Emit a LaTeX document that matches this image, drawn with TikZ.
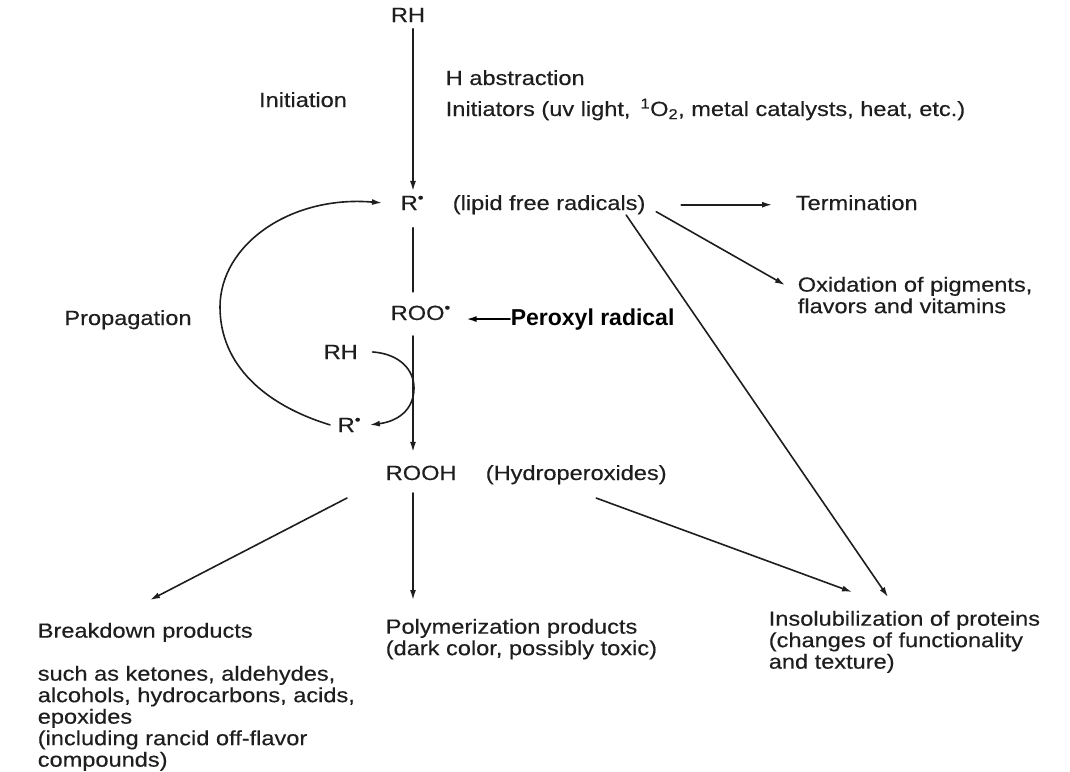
\documentclass[tikz,border=0pt]{standalone}
\usepackage{fontspec}
\setmainfont[FakeStretch=1.15, FakeBold=0.35]{Liberation Sans}
\newfontfamily\labelfont{Liberation Sans}
\usetikzlibrary{arrows.meta}

\definecolor{inkgray}{HTML}{1E1E1E}

\begin{document}
\begin{tikzpicture}[x=1pt, y=-1pt, line width=1.6pt, line cap=round, line join=round,
    txt/.style={inner sep=0pt, text=inkgray, font=\fontsize{20.5}{21.5}\selectfont},
    para/.style={txt, align=left, anchor=north west},
    ln/.style={draw=inkgray},
    arr/.style={draw=inkgray, -{Latex[length=10pt,width=6pt]}}]

  %% ════ main column ════
  \coordinate (spine) at (413,0);
  \node[txt, anchor=base] (rh) at (408,22) {RH};
  \node[txt, anchor=base] (init) at (303,107) {Initiation};
  \node[txt, anchor=base west] (habs) at (445,85) {H abstraction};
  \node[txt, anchor=base west] (initors) at (445,116) {Initiators (uv light, \,\textsuperscript{1}O\textsubscript{2}, metal catalysts, heat, etc.)};
  \node[txt, anchor=base west] (r) at (400,210) {R\textsuperscript{•}};
  \node[txt, anchor=base west] (lipid) at (452,210) {(lipid free radicals)};
  \node[txt, anchor=base west] (term) at (795,210) {Termination};
  \node[para] (oxid) at (797,276) {Oxidation of pigments,\\flavors and vitamins};
  \node[txt, anchor=base] (prop) at (128,325) {Propagation};
  \node[txt, anchor=base west] (roo) at (390,320) {ROO\textsuperscript{•}};
  \node[inner sep=0pt, anchor=base west, font=\labelfont\bfseries\fontsize{23}{26}\selectfont] (perox) at (510,325) {Peroxyl radical};
  \node[txt, anchor=base west] (rh2) at (323,359) {RH};
  \node[txt, anchor=base west] (r2) at (337,432) {R\textsuperscript{•}};
  \node[txt, anchor=base west] (rooh) at (385,480) {ROOH};
  \node[txt, anchor=base west] (hydro) at (485,480) {(Hydroperoxides)};

  %% ════ products ════
  \node[para] (brk) at (37,622) {Breakdown products\\[21.5pt]such as ketones, aldehydes,\\alcohols, hydrocarbons, acids,\\epoxides\\(including rancid off-flavor\\compounds)};
  \node[para] (poly) at (385,618) {Polymerization products\\(dark color, possibly toxic)};
  \node[para] (insol) at (768,610) {Insolubilization of proteins\\(changes of functionality\\and texture)};

  %% ════ connectors ════
  \draw[arr, shorten <=6pt, shorten >=4pt] (rh.south -| spine) -- (r.north -| spine);
  \draw[ln, shorten <=17pt, shorten >=13pt] (r.south -| spine) -- (roo.north -| spine);
  \draw[arr, shorten <=15pt, shorten >=13pt] (roo.south -| spine) -- (rooh.north -| spine);
  \draw[arr, shorten <=12pt, shorten >=18pt] (rooh.south -| spine) -- (poly.north -| spine);
  \draw[arr, shorten <=35pt, shorten >=23pt] (lipid.east) -- (lipid.east -| term.west);
  \draw[arr] ([shift={(10,7)}]lipid.east) -- ([shift={(-12,9)}]oxid.north west);
  \draw[arr] ([shift={(-20,0)}]lipid.south east) -- ([shift={(120,-13)}]insol.north west);
  \draw[arr] ([shift={(20,13)}]hydro.south) -- ([shift={(84,-18)}]insol.north west);
  \draw[arr] ([shift={(-38,17)}]rooh.south west) -- ([shift={(113,-22)}]brk.north west);
  \draw[arr, draw=black, shorten >=15pt] (perox.west) -- (perox.west -| roo.east);

  %% ════ propagation loop ════
  \draw[arr] ([xshift=-7pt]r2.west) .. controls (265,405) and (220,365) .. (220,307)
     .. controls (220,245) and (290,195) .. ([xshift=-18pt]r.west);
  \draw[arr] ([xshift=14pt]rh2.east) .. controls (400,354) and (414,370) .. (414,388)
     .. controls (414,408) and (400,421) .. ([xshift=8pt]r2.east);

  \pgfresetboundingbox
  \path[use as bounding box] (0,0) rectangle (1070,771);
\end{tikzpicture}
\end{document}
